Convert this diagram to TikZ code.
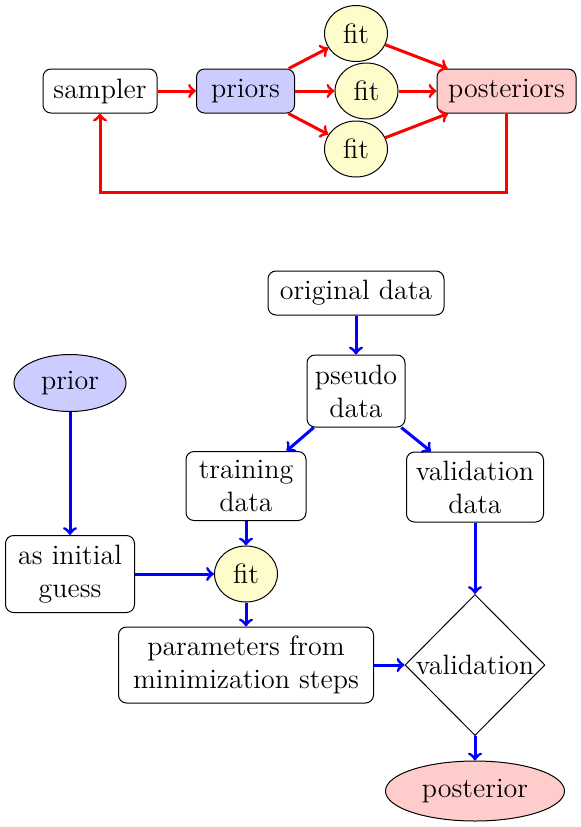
\documentclass[tikz,border=0pt]{standalone}
\usetikzlibrary{shapes.geometric}
\begin{document}
\begin{tikzpicture}[x=0.5pt,y=-0.5pt,
  font=\fontsize{14}{16.5}\selectfont,
  box/.style={draw, rounded corners=4pt, line width=0.5pt, align=center, inner sep=0pt},
  fitc/.style={ellipse, draw, line width=0.5pt, fill=yellow!20, minimum width=31.5pt, minimum height=28pt, inner sep=0pt},
  ell/.style={ellipse, draw, line width=0.5pt, inner sep=0pt},
  ra/.style={->, red, line width=1.5pt},
  ba/.style={->, blue, line width=1.5pt}]
\useasboundingbox (0,0) rectangle (581,827);
% top part
\node[box, minimum width=57pt, minimum height=22pt] (sampler) at (100,91) {sampler};
\node[box, fill=blue!20, minimum width=49pt, minimum height=22pt] (priors) at (245.5,91) {priors};
\node[fitc] (fitA) at (356,33.5) {fit};
\node[fitc] (fitB) at (366.5,91) {fit};
\node[fitc] (fitC) at (356,149) {fit};
\node[box, fill=red!20, minimum width=69.5pt, minimum height=22pt] (posts) at (506.5,91) {posteriors};
\draw[ra] (sampler) -- (priors);
\draw[ra] (priors) -- (fitA);
\draw[ra] (priors) -- (fitB);
\draw[ra] (priors) -- (fitC);
\draw[ra] (fitA) -- (posts);
\draw[ra] (fitB) -- (posts);
\draw[ra] (fitC) -- (posts);
\draw[ra] (posts.south) -- ++(0,79) -| (sampler.south);
% bottom part
\node[box, minimum width=88pt, minimum height=22pt] (orig) at (356,293) {original data};
\node[box, minimum width=49pt, minimum height=36pt] (pseudo) at (356,391) {pseudo\\data};
\node[ell, fill=blue!20, minimum width=56pt, minimum height=28.5pt] (prior) at (70,383) {prior};
\node[box, minimum width=60pt, minimum height=34.5pt] (train) at (246,486) {training\\data};
\node[box, minimum width=68.5pt, minimum height=35pt] (valdata) at (475,487) {validation\\data};
\node[box, minimum width=64.5pt, minimum height=38.5pt] (guess) at (70,574) {as initial\\guess};
\node[fitc] (fit) at (246,574) {fit};
\node[box, minimum width=127.5pt, minimum height=38pt] (params) at (246,665) {parameters from\\minimization steps};
\node[diamond, draw, line width=0.5pt, inner sep=-1.2pt, minimum width=70pt, minimum height=70.5pt] (valid) at (475,665) {validation};
\node[ell, fill=red!20, minimum width=89.5pt, minimum height=30pt] (post) at (475,791) {posterior};
\draw[ba] (orig) -- (pseudo);
\draw[ba] (pseudo) -- (train);
\draw[ba] (pseudo) -- (valdata);
\draw[ba] (prior) -- (guess);
\draw[ba] (train) -- (fit);
\draw[ba] (guess) -- (fit);
\draw[ba] (fit) -- (params);
\draw[ba] (valdata) -- (valid);
\draw[ba] (params) -- (valid);
\draw[ba] (valid) -- (post);
\end{tikzpicture}
\end{document}
